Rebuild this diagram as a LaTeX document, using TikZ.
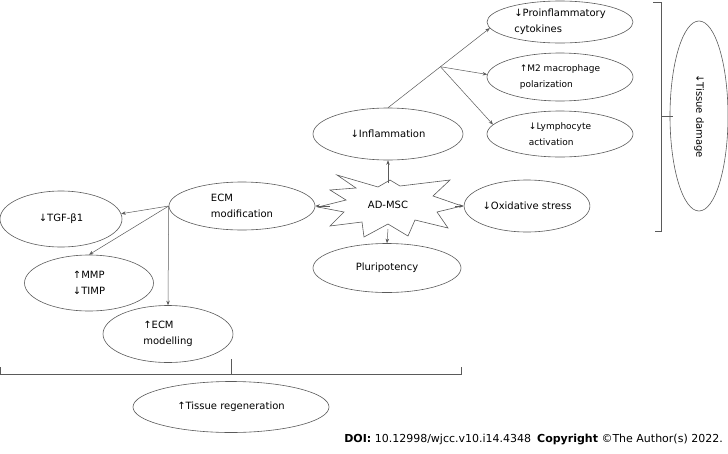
\documentclass[tikz,border=0pt]{standalone}
\usepackage{fontspec}
\setmainfont{DejaVu Sans}
\usetikzlibrary{shapes.geometric,arrows.meta}
\definecolor{ln}{RGB}{90,90,90}
\tikzset{
  ell/.style={draw=ln, line width=0.6pt, ellipse, inner sep=0pt, font=\fontsize{10}{16}\selectfont, align=left},
  arr/.style={draw=ln, line width=0.5pt, -{Stealth[length=4.5pt,width=3.5pt]}},
  brk/.style={draw=ln, line width=0.6pt},
}
\begin{document}
\begin{tikzpicture}[x=1pt,y=-1pt]
\useasboundingbox (0,0) rectangle (728,453);
% right column
\node[ell, minimum width=146, minimum height=42] (prof) at (560,22) {↓Proinflammatory\\cytokines};
\node[ell, minimum width=146, minimum height=48, font=\fontsize{9}{16}\selectfont] (m2) at (560,77) {↑M2 macrophage\\polarization};
\node[ell, minimum width=146, minimum height=46, font=\fontsize{9}{16}\selectfont] (lym) at (560,134) {↓Lymphocyte\\activation};
\node[ell, minimum width=150, minimum height=52] (infl) at (388,134) {↓Inflammation};
\node[ell, minimum width=125, minimum height=52] (ox) at (527,206) {↓Oxidative stress};
\node[ell, minimum width=148, minimum height=49] (plu) at (387,268) {Pluripotency};
\node[ell, minimum width=146, minimum height=48] (ecm) at (242,206) {ECM\\modification};
\node[ell, minimum width=122, minimum height=56] (tgf) at (61,219) {↓TGF-β1};
\node[ell, minimum width=129, minimum height=56] (mmp) at (89,283) {↑MMP\\↓TIMP};
\node[ell, minimum width=130, minimum height=57] (ecmm) at (168,334) {↑ECM\\modelling};
\node[ell, minimum width=196, minimum height=51] (reg) at (231,407) {↑Tissue regeneration};
\node[ell, minimum width=58, minimum height=190] (dam) at (699,116) {};
\node[rotate=-90, font=\fontsize{10}{12}\selectfont] (damt) at (dam.center) {↓Tissue damage};
% star
\draw[ln, line width=0.6pt, fill=white]
  (337,175) -- (378,187) -- (390,180) -- (400,186) -- (450,180) -- (433,196)
  -- (462,206) -- (437,212) -- (448,228) -- (415,220) -- (408,236) -- (388,224)
  -- (364,237) -- (362,222) -- (330,226) -- (344,212) -- (318,207) -- (346,200)
  -- (330,190) -- (356,188) -- cycle;
\node[font=\fontsize{10}{12}\selectfont] (msc) at (388,205) {AD-MSC};
\coordinate (mscT) at (388,183);
\coordinate (mscB) at (388,229);
\coordinate (mscL) at (330,206);
\coordinate (mscR) at (455,206);
% arrows
\draw[arr] (mscT) -- (infl.south);
\draw[arr] (mscB) -- (plu.north);
\draw[arr] (mscL) -- (ecm.east);
\draw[arr] (mscR) -- (ox.west);
\draw[arr] (infl.north) -- (prof.185) coordinate[pos=0.515] (br);
\draw[arr] (br) -- (m2.178);
\draw[arr] (br) -- (lym.172);
\draw[arr] (ecm.west) -- (tgf.5);
\draw[arr] (ecm.west) -- (mmp.north);
\draw[arr] (ecm.west) -- (ecmm.north);
% brackets
\coordinate (tdT) at (661,2);
\coordinate (tdB) at (661,231);
\coordinate (tdM) at (661,116);
\draw[brk] (653,2) -- (tdT) -- (tdB) -- (655,231);
\draw[brk] (tdM) -- (673,116);
\coordinate (trL) at (0,374);
\coordinate (trR) at (461,374);
\coordinate (trM) at (231,374);
\draw[brk] (0.3,367) -- (0.3,374) -- (trR) -- (461,367);
\draw[brk] (trM) -- (231,359);
% footer
\node[anchor=base east, font=\fontsize{11}{13}\selectfont, inner sep=0pt] (doi) at (723,442)
  {\textbf{DOI:} 10.12998/wjcc.v10.i14.4348\hspace{6pt}\textbf{Copyright} ©The Author(s) 2022.};
\end{tikzpicture}
\end{document}
